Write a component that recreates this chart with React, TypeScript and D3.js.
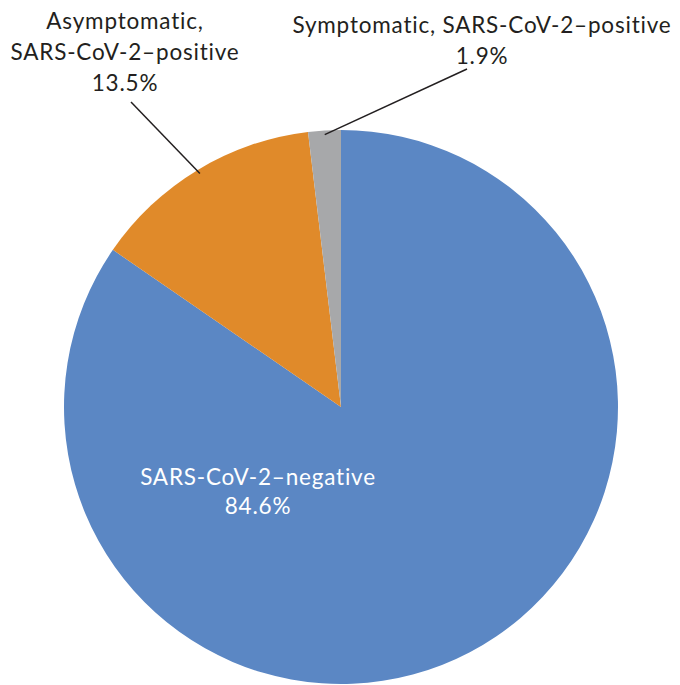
import React, { useRef, useEffect } from 'react';
import * as d3 from 'd3';

const categories = ['SARS-CoV-2–negative', 'Asymptomatic, SARS-CoV-2–positive', 'Symptomatic, SARS-CoV-2–positive'];
const shares = [84.6, 13.5, 1.9];
const colors = ['#5b87c4', '#e08a2a', '#a7a8aa'];

interface Slice {
  name: string;
  value: number;
}

const WIDTH = 680;
const HEIGHT = 685;

const PieChart: React.FC = () => {
  const svgRef = useRef<SVGSVGElement | null>(null);

  useEffect(() => {
    const svg = d3.select(svgRef.current)
      .attr('width', WIDTH)
      .attr('height', HEIGHT)
      .style('position', 'absolute')
      .style('left', '0px')
      .style('top', '0px')
      .style('background', '#ffffff');

    const data: Slice[] = categories.map((name, i) => ({ name, value: shares[i] }));

    const cx = 341;
    const cy = 407;
    const radius = 277;

    const g = svg.append('g').attr('transform', `translate(${cx},${cy})`);

    const color = d3.scaleOrdinal<string>().domain(categories).range(colors);

    const pie = d3.pie<Slice>().sort(null).value(d => d.value);
    const arcs = pie(data);

    const arc = d3.arc<d3.PieArcDatum<Slice>>().innerRadius(0).outerRadius(radius);

    g.selectAll('path.slice')
      .data(arcs)
      .enter()
      .append('path')
      .attr('class', 'slice')
      .attr('fill', d => color(d.data.name))
      .attr('d', arc);

    const font = 'Lato, "Open Sans", sans-serif';
    const fontSize = '22.5px';
    const spacing = '0.8px';
    const textColor = '#231f20';

    // point on the slice edge along its middle angle
    const edgePoint = (d: d3.PieArcDatum<Slice>, r: number) => {
      const a = (d.startAngle + d.endAngle) / 2;
      return [r * Math.sin(a), -r * Math.cos(a)];
    };

    // inside label for the big slice
    g.append('text')
      .attr('text-anchor', 'middle')
      .style('font-family', font)
      .style('font-size', fontSize)
      .style('letter-spacing', spacing)
      .style('fill', '#ffffff')
      .selectAll('tspan')
      .data([categories[0], `${shares[0].toFixed(1)}%`])
      .enter()
      .append('tspan')
      .attr('x', -83)
      .attr('y', (d, i) => 78 + i * 29)
      .text(d => d);

    // outside labels with leader lines
    const outside = [
      { idx: 1, lines: ['Asymptomatic,', 'SARS-CoV-2–positive', `${shares[1].toFixed(1)}%`], tx: -216, ty: -378, lx: -210, ly: -305 },
      { idx: 2, lines: ['Symptomatic, SARS-CoV-2–positive', `${shares[2].toFixed(1)}%`], tx: 141, ty: -374, lx: 126, ly: -338 },
    ];

    outside.forEach(o => {
      const [x0, y0] = edgePoint(arcs[o.idx], radius * 0.985);
      g.append('line')
        .attr('x1', x0)
        .attr('y1', y0)
        .attr('x2', o.lx)
        .attr('y2', o.ly)
        .attr('stroke', textColor)
        .attr('stroke-width', 1.5);

      g.append('text')
        .attr('text-anchor', 'middle')
        .style('font-family', font)
        .style('font-size', fontSize)
        .style('letter-spacing', spacing)
        .style('fill', textColor)
        .selectAll('tspan')
        .data(o.lines)
        .enter()
        .append('tspan')
        .attr('x', o.tx)
        .attr('y', (d, i) => o.ty + i * 31)
        .text(d => d);
    });

    return () => {
      svg.selectAll('*').remove();
    };
  }, []);

  return <svg ref={svgRef}></svg>;
};

export default function App() {
  return <PieChart />;
}
